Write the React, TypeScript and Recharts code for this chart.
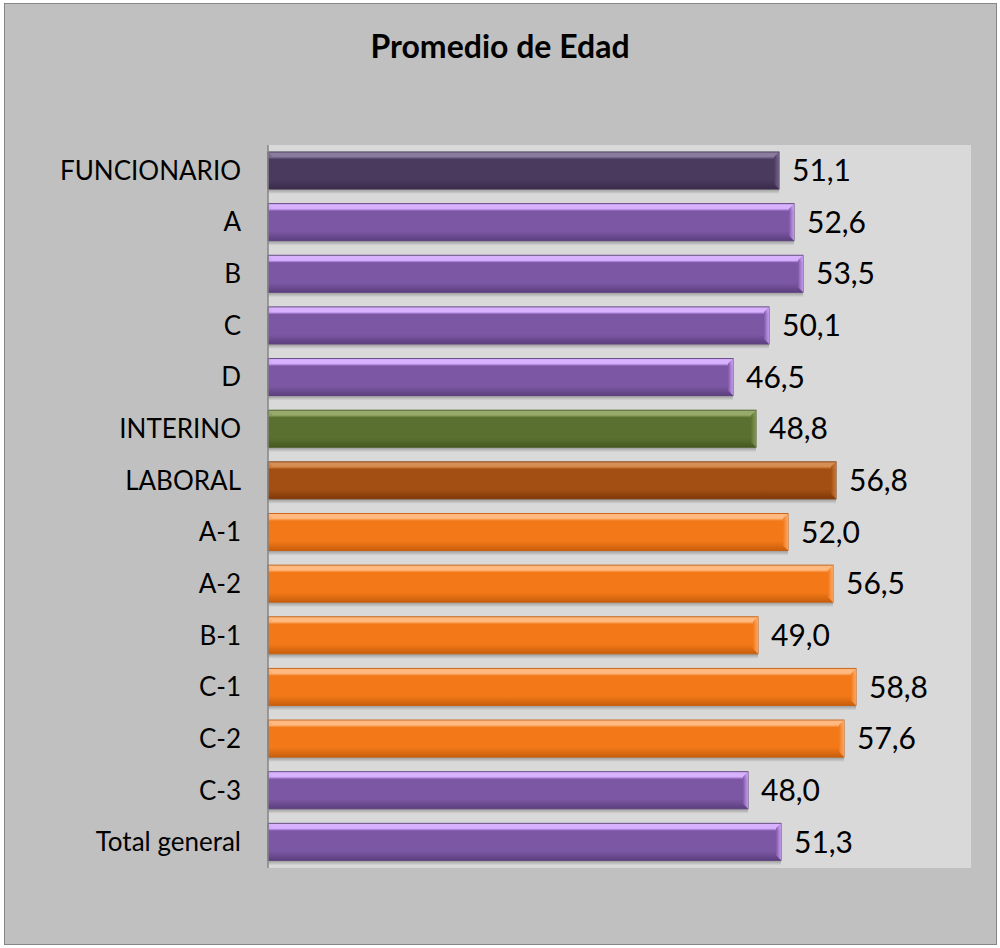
import React from 'react';
import { BarChart, Bar, XAxis, YAxis, CartesianGrid, Cell, LabelList } from 'recharts';

const categories = ['FUNCIONARIO', 'A', 'B', 'C', 'D', 'INTERINO', 'LABORAL', 'A-1', 'A-2', 'B-1', 'C-1', 'C-2', 'C-3', 'Total general'];
const ages = [51.1, 52.6, 53.5, 50.1, 46.5, 48.8, 56.8, 52.0, 56.5, 49.0, 58.8, 57.6, 48.0, 51.3];
const groups = ['func', 'purple', 'purple', 'purple', 'purple', 'green', 'brown', 'orange', 'orange', 'orange', 'orange', 'orange', 'purple', 'purple'];

// light / mid / dark per colour group
const palette: Record<string, [string, string, string]> = {
  func: ['#7a6a90', '#4a3a5e', '#3a2c4c'],
  purple: ['#d4a8ff', '#7c57a4', '#5c3f7e'],
  green: ['#8aa058', '#5a7030', '#46591f'],
  brown: ['#d0803e', '#a34e12', '#80390a'],
  orange: ['#ffb070', '#f27818', '#c85e0c'],
};

const data = categories.map((name, i) => ({ name, age: ages[i], group: groups[i] }));

const fmt = (v: any) => Number(v).toFixed(1).replace('.', ',');

const FONT = 'Lato, "Open Sans", sans-serif';

const BevelBar = (props: any) => {
  const { x, y, width, height, payload } = props;
  const key = payload.group;
  const [, , dark] = palette[key];
  const b = 5;
  return (
    <g>
      <rect x={x} y={y + height} width={width} height={5} fill={`url(#shadow)`} />
      <rect x={x} y={y} width={width} height={height} fill={`url(#g-${key})`} stroke={dark} strokeWidth={1} />
      <polygon
        points={`${x + width - b},${y + b} ${x + width},${y} ${x + width},${y + height} ${x + width - b},${y + height - b}`}
        fill={`url(#e-${key})`}
      />
      <polygon points={`${x},${y} ${x + b},${y + b} ${x + width - b},${y + b} ${x + width},${y}`} fill="#ffffff" opacity={0.12} />
    </g>
  );
};

const CatTick = ({ x, y, payload }: any) => (
  <text x={x} y={y} dy={9} textAnchor="end" fontSize={26} fill="#000" fontFamily={FONT}>
    {payload.value}
  </text>
);

export default function App() {
  return (
    <div style={{ position: 'absolute', left: 0, top: 0, width: 1000, height: 948, background: '#fff' }}>
      <div
        style={{
          position: 'absolute',
          left: 4,
          top: 3,
          width: 993,
          height: 942,
          background: '#c0c0c0',
          border: '1px solid #868686',
          boxSizing: 'border-box',
        }}
      />
      <div
        style={{
          position: 'absolute',
          left: 0,
          top: 26,
          width: 1000,
          textAlign: 'center',
          fontFamily: FONT,
          fontWeight: 'bold',
          fontSize: 32,
          color: '#000',
        }}
      >
        Promedio de Edad
      </div>
      <div style={{ position: 'absolute', left: 0, top: 0 }}>
        <BarChart
          width={1000}
          height={948}
          data={data}
          layout="vertical"
          margin={{ top: 145, right: 29, bottom: 80, left: 0 }}
          barCategoryGap="28%"
        >
          <defs>
            {Object.keys(palette).map((k) => {
              const [light, mid, dark] = palette[k];
              return (
                <React.Fragment key={k}>
                  <linearGradient id={`g-${k}`} x1="0" y1="0" x2="0" y2="1">
                    <stop offset="0" stopColor={light} />
                    <stop offset="0.14" stopColor={light} />
                    <stop offset="0.2" stopColor={mid} />
                    <stop offset="0.75" stopColor={mid} />
                    <stop offset="1" stopColor={dark} />
                  </linearGradient>
                  <linearGradient id={`e-${k}`} x1="0" y1="0" x2="1" y2="0">
                    <stop offset="0" stopColor={mid} />
                    <stop offset="1" stopColor={light} stopOpacity={0.8} />
                  </linearGradient>
                </React.Fragment>
              );
            })}
            <linearGradient id="shadow" x1="0" y1="0" x2="0" y2="1">
              <stop offset="0" stopColor="#000" stopOpacity={0.3} />
              <stop offset="1" stopColor="#000" stopOpacity={0} />
            </linearGradient>
          </defs>
          <CartesianGrid fill="#d9d9d9" stroke="none" />
          <XAxis type="number" domain={[0, 70.3]} hide />
          <YAxis
            type="category"
            dataKey="name"
            width={268}
            tick={<CatTick />}
            tickLine={false}
            tickSize={0}
            tickMargin={27}
            axisLine={{ stroke: '#868686', strokeWidth: 1.5 }}
          />
          <Bar dataKey="age" barSize={37} shape={<BevelBar />} isAnimationActive={false}>
            {data.map((d) => (
              <Cell key={d.name} />
            ))}
            <LabelList
              dataKey="age"
              position="right"
              offset={13}
              formatter={fmt}
              style={{ fontSize: 30, fontFamily: FONT, fill: '#000' }}
            />
          </Bar>
        </BarChart>
      </div>
    </div>
  );
}
